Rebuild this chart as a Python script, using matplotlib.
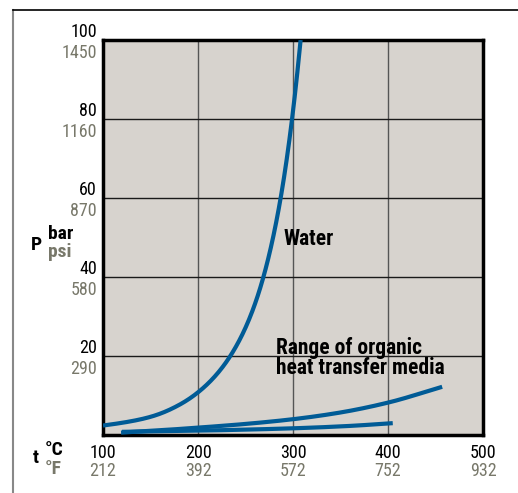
import matplotlib
matplotlib.use('Agg')
import matplotlib.pyplot as plt
import matplotlib.transforms as mtransforms
from matplotlib import font_manager
from matplotlib.lines import Line2D
import numpy as np

# narrow sans like the print original; take the first one installed
available = set(f.name for f in font_manager.fontManager.ttflist)
candidates = ['Roboto Condensed', 'Archivo Narrow', 'Liberation Sans Narrow', 'PT Sans Narrow',
              'Pragati Narrow', 'Fira Sans Condensed', 'IBM Plex Sans Condensed',
              'Open Sans Condensed', 'Liberation Sans']
font = next((c for c in candidates if c in available), 'DejaVu Sans')
plt.rcParams['font.family'] = [font, 'DejaVu Sans']

# data
water_t = [100, 150, 180, 200, 234, 255, 270, 287, 299, 308]
water_p = [2.4, 4.6, 7.6, 10.8, 20, 30, 41, 60, 80, 100]

organic_hi_t = [119, 160, 202, 250, 300, 350, 400, 457]
organic_hi_p = [0.6, 1.2, 1.9, 2.8, 4.0, 5.7, 8.2, 12.2]

organic_lo_t = [120, 200, 265, 307, 360, 405]
organic_lo_p = [0.8, 1.1, 1.45, 1.75, 2.3, 3.0]

t_celsius = [100, 200, 300, 400, 500]
t_fahrenheit = ['212', '392', '572', '752', '932']
p_bar = [20, 40, 60, 80, 100]
p_psi = ['290', '580', '870', '1160', '1450']

blue = '#005b96'
grey_txt = '#78786a'
bg = '#d7d3ce'


def pchip(x, y, xs):
    # Fritsch-Carlson monotone cubic
    x = np.asarray(x, float)
    y = np.asarray(y, float)
    h = np.diff(x)
    d = np.diff(y) / h
    m = np.zeros_like(y)
    for i in range(1, len(x) - 1):
        if d[i - 1] * d[i] > 0:
            w1 = 2 * h[i] + h[i - 1]
            w2 = h[i] + 2 * h[i - 1]
            m[i] = (w1 + w2) / (w1 / d[i - 1] + w2 / d[i])
    m[0] = d[0]
    m[-1] = d[-1]
    idx = np.clip(np.searchsorted(x, xs) - 1, 0, len(x) - 2)
    t = (xs - x[idx]) / h[idx]
    h00 = 2 * t**3 - 3 * t**2 + 1
    h10 = t**3 - 2 * t**2 + t
    h01 = -2 * t**3 + 3 * t**2
    h11 = t**3 - t**2
    return h00 * y[idx] + h10 * h[idx] * m[idx] + h01 * y[idx + 1] + h11 * h[idx] * m[idx + 1]


def curve(t, p, log=False):
    xs = np.linspace(t[0], t[-1], 300)
    if log:
        return xs, np.exp(pchip(t, np.log(p), xs))
    return xs, pchip(t, p, xs)


fig = plt.figure(figsize=(5.18, 4.93), dpi=100)
ax = fig.add_axes([103 / 518, 1 - 435 / 493, 380 / 518, 395 / 493])
ax.set_facecolor(bg)
ax.set_xlim(100, 500)
ax.set_ylim(0, 100)

ax.set_xticks(t_celsius)
ax.set_yticks(p_bar)
ax.tick_params(length=0, labelbottom=False, labelleft=False)
for t in t_celsius[1:-1]:
    ax.axvline(t, color='#555555', lw=1.0, zorder=1)
for p in p_bar[:-1]:
    ax.axhline(p, color='#1a1a1a', lw=1.0, zorder=1)
for s in ax.spines.values():
    s.set_linewidth(2.5)
    s.set_color('black')

xs, ys = curve(water_t, water_p, log=True)
ax.plot(xs, ys, color=blue, lw=3.0, zorder=3, solid_capstyle='butt')
xs, ys = curve(organic_hi_t, organic_hi_p)
ax.plot(xs, ys, color=blue, lw=3.0, zorder=3, solid_capstyle='butt')
xs, ys = curve(organic_lo_t, organic_lo_p)
ax.plot(xs, ys, color=blue, lw=3.0, zorder=3, solid_capstyle='butt')

tf = mtransforms.blended_transform_factory(ax.transAxes, ax.transData)
down = mtransforms.ScaledTranslation(0, -15 / 72, fig.dpi_scale_trans)
for p, psi in zip(p_bar, p_psi):
    ax.text(-0.016, p + 0.8, str(p), transform=tf, ha='right', va='baseline',
            fontsize=13, color='black', clip_on=False)
    ax.text(-0.016, p + 0.8, psi, transform=tf + down,
            ha='right', va='baseline', fontsize=13, color=grey_txt, clip_on=False)

tx = mtransforms.blended_transform_factory(ax.transData, ax.transAxes)
for t, f in zip(t_celsius, t_fahrenheit):
    ax.text(t, -0.023, str(t), transform=tx, ha='center', va='top',
            fontsize=13, color='black', clip_on=False)
    ax.text(t, -0.069, f, transform=tx, ha='center', va='top',
            fontsize=13, color=grey_txt, clip_on=False)

# axis names
fig.text(36 / 518, 1 - 245 / 493, 'P', ha='center', va='center', fontsize=14, fontweight='bold')
fig.text(48 / 518, 1 - 234 / 493, 'bar', ha='left', va='center', fontsize=14, fontweight='bold')
fig.text(48 / 518, 1 - 252 / 493, 'psi', ha='left', va='center', fontsize=14, fontweight='bold', color=grey_txt)
fig.text(36 / 518, 1 - 458 / 493, 't', ha='center', va='center', fontsize=14, fontweight='bold')
fig.text(45 / 518, 1 - 450 / 493, '°C', ha='left', va='center', fontsize=14, fontweight='bold')
fig.text(45 / 518, 1 - 469 / 493, '°F', ha='left', va='center', fontsize=14, fontweight='bold', color=grey_txt)

# curve labels
fig.text(284 / 518, 1 - 239 / 493, 'Water', ha='left', va='center', fontsize=15.5, fontweight='bold')
fig.text(276 / 518, 1 - 358 / 493, 'Range of organic\nheat transfer media',
         ha='left', va='center', fontsize=15.5, fontweight='bold', linespacing=0.92)

# outer frame
fig.add_artist(Line2D([13 / 518, 13 / 518], [0, 1 - 10 / 493], transform=fig.transFigure, color='#888888', lw=1.5))
fig.add_artist(Line2D([13 / 518, 1], [1 - 10 / 493, 1 - 10 / 493], transform=fig.transFigure, color='black', lw=1.2))

fig.savefig('out.png', dpi=100)
